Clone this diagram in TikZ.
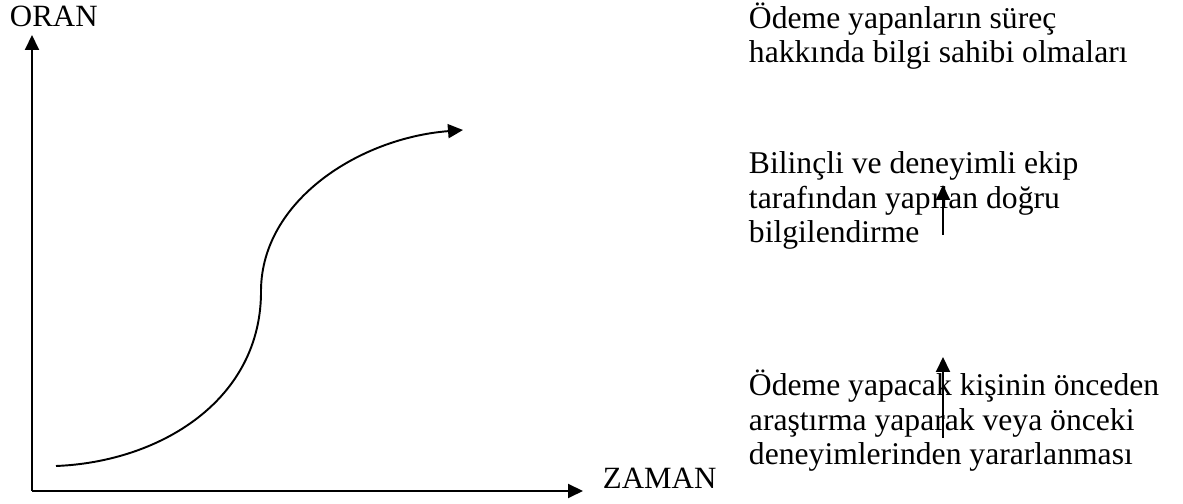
\documentclass[tikz,border=0pt]{standalone}
\usepackage{fontspec}
\setmainfont{Liberation Serif}
\usetikzlibrary{arrows.meta}
\begin{document}
\begin{tikzpicture}[x=1cm,y=1cm,>={Triangle[length=.3cm,width=.28cm]},line width=1.1pt,
  font=\fontsize{17.6}{19.9}\selectfont]
  \tikzset{note/.style={anchor=base west,inner sep=0,align=left,
    font=\fontsize{18}{19.9}\selectfont}}
  \useasboundingbox (0,0) rectangle (23.66,10.08);
  \coordinate (o) at (.64,.26);
  \coordinate (ytip) at (.64,9.38);
  \coordinate (xtip) at (11.66,.26);
  \coordinate (c0) at (1.12,.76);
  \coordinate (c1) at (5.22,4.28);
  \coordinate (c2) at (9.26,7.48);
  \coordinate (a1) at (18.86,5.38);
  \coordinate (a1t) at (18.86,6.38);
  \coordinate (a2) at (18.86,1.32);
  \coordinate (a2t) at (18.86,2.94);
  \draw[->] (o)--(ytip);
  \draw[->] (o)--(xtip);
  \draw[->] (c0) .. controls (3.2,.84) and (5.24,2.08) .. (c1)
    .. controls (5.24,6.08) and (7.2,7.32) .. (c2);
  \node[anchor=base west,inner sep=0] (oran) at (.18,9.54) {ORAN};
  \node[anchor=base west,inner sep=0] (zaman) at (12.04,.30) {ZAMAN};
  \node[note] (bilgi) at (14.96,8.82)
    {Ödeme yapanların süreç\\hakkında bilgi sahibi olmaları};
  \node[note] (ekip) at (14.96,5.22)
    {Bilinçli ve deneyimli ekip\\tarafından yapılan doğru\\bilgilendirme};
  \node[note] (arastirma) at (14.96,.78)
    {Ödeme yapacak kişinin önceden\\araştırma yaparak veya önceki\\deneyimlerinden yararlanması};
  \draw[->] (a1)--(a1t);
  \draw[->] (a2)--(a2t);
\end{tikzpicture}
\end{document}
